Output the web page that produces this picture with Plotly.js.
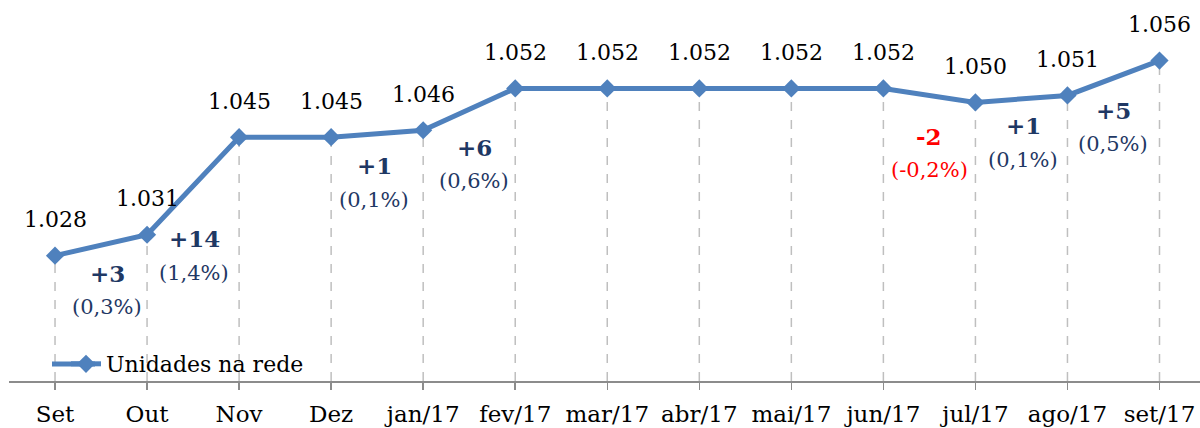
<!DOCTYPE html>
<html>
<head>
<meta charset="utf-8">
<script src="https://cdn.plot.ly/plotly-3.0.1.min.js"></script>
<style>html,body{margin:0;padding:0;background:#fff;}#chart{width:1200px;height:428px;}</style>
</head>
<body>
<div id="chart"></div>
<script>
// ---- data ----
const months = ["Set", "Out", "Nov", "Dez", "jan/17", "fev/17", "mar/17", "abr/17", "mai/17", "jun/17", "jul/17", "ago/17", "set/17"];
const units = [1028, 1031, 1045, 1045, 1046, 1052, 1052, 1052, 1052, 1052, 1050, 1051, 1056];
const seriesName = "Unidades na rede";

// ---- styles ----
const FONT = "DejaVu Serif";
const LINE_COLOR = "#4F81BD";
const POS_COLOR = "#1F3864";
const NEG_COLOR = "#FF0000";
// pixel offsets (dx, dy down) of change labels from segment midpoints, keyed by ending index
const changeOffsets = {1: [6, 28], 2: [1, 53], 4: [-3, 32], 5: [5, 38], 10: [0, 41], 11: [2, 27], 12: [0, 32]};
const PCT_GAP = 34;

function fmtThousands(v) {
  const s = String(v);
  return s.length > 3 ? s.slice(0, s.length - 3) + "." + s.slice(s.length - 3) : s;
}

const xIdx = months.map((_, i) => i);

const annotations = [];
// value labels
units.forEach((v, i) => {
  annotations.push({
    x: i, y: v, xref: "x", yref: "y", text: fmtThousands(v), showarrow: false,
    yshift: 36, yanchor: "middle", xanchor: "center",
    font: {family: FONT, size: 22, color: "#000000"}
  });
});
// change labels
for (let i = 1; i < units.length; i++) {
  const d = units[i] - units[i - 1];
  if (d === 0) continue;
  const pct = (d / units[i - 1] * 100).toFixed(1).replace(".", ",");
  const off = changeOffsets[i] || [0, 30];
  const color = d < 0 ? NEG_COLOR : POS_COLOR;
  const midX = i - 0.5, midY = (units[i] + units[i - 1]) / 2;
  annotations.push({
    x: midX, y: midY, xref: "x", yref: "y", showarrow: false,
    text: "<b>" + (d > 0 ? "+" : "") + d + "</b>",
    xshift: off[0], yshift: -off[1], xanchor: "center", yanchor: "middle",
    font: {family: FONT, size: 23, color: color}
  });
  annotations.push({
    x: midX, y: midY, xref: "x", yref: "y", showarrow: false,
    text: "(" + pct + "%)",
    xshift: off[0], yshift: -off[1] - PCT_GAP, xanchor: "center", yanchor: "middle",
    font: {family: FONT, size: 21, color: color}
  });
}

const YMIN = 1010;
const shapes = units.map((v, i) => ({
  type: "line", xref: "x", yref: "y", x0: i, x1: i, y0: YMIN, y1: v,
  line: {color: "#BFBFBF", width: 1.5, dash: "dash"}, layer: "below"
}));
// extend legend sample line to the left (Excel-style long legend key)
shapes.push({
  type: "line", xref: "paper", yref: "paper",
  x0: (52 - 9) / 1191, x1: (95 - 9) / 1191, y0: (381 - 364) / 381, y1: (381 - 364) / 381,
  line: {color: LINE_COLOR, width: 5}
});

const trace = {
  x: xIdx, y: units, type: "scatter", mode: "lines+markers", name: seriesName,
  line: {color: LINE_COLOR, width: 5},
  marker: {symbol: "diamond", size: 14, color: LINE_COLOR},
  hoverinfo: "skip"
};

const layout = {
  width: 1200, height: 428,
  margin: {l: 9, r: 0, t: 0, b: 47, pad: 0},
  paper_bgcolor: "#ffffff", plot_bgcolor: "#ffffff",
  font: {family: FONT, size: 22, color: "#000000"},
  showlegend: true,
  legend: {
    x: (66 - 9) / 1191, y: (381 - 364) / 381, xanchor: "left", yanchor: "middle",
    bgcolor: "rgba(0,0,0,0)", font: {family: FONT, size: 22, color: "#000"},
    itemwidth: 30, tracegroupgap: 0
  },
  xaxis: {
    range: [-0.5, 12.44], tickmode: "array", tickvals: xIdx, ticktext: months,
    showgrid: false, zeroline: false, showline: true, linecolor: "#8C8C8C", linewidth: 1.5,
    ticks: "outside", tickson: "boundaries", ticklen: 7, tickwidth: 1.5, tickcolor: "#8C8C8C",
    ticklabelstandoff: 5,
    tickfont: {family: FONT, size: 23, color: "#000"}, fixedrange: true
  },
  yaxis: {
    range: [YMIN, 1064.7], visible: false, showgrid: false, zeroline: false, fixedrange: true
  },
  annotations: annotations,
  shapes: shapes
};

Plotly.newPlot("chart", [trace], layout, {displayModeBar: false, staticPlot: true});
</script>
</body>
</html>
